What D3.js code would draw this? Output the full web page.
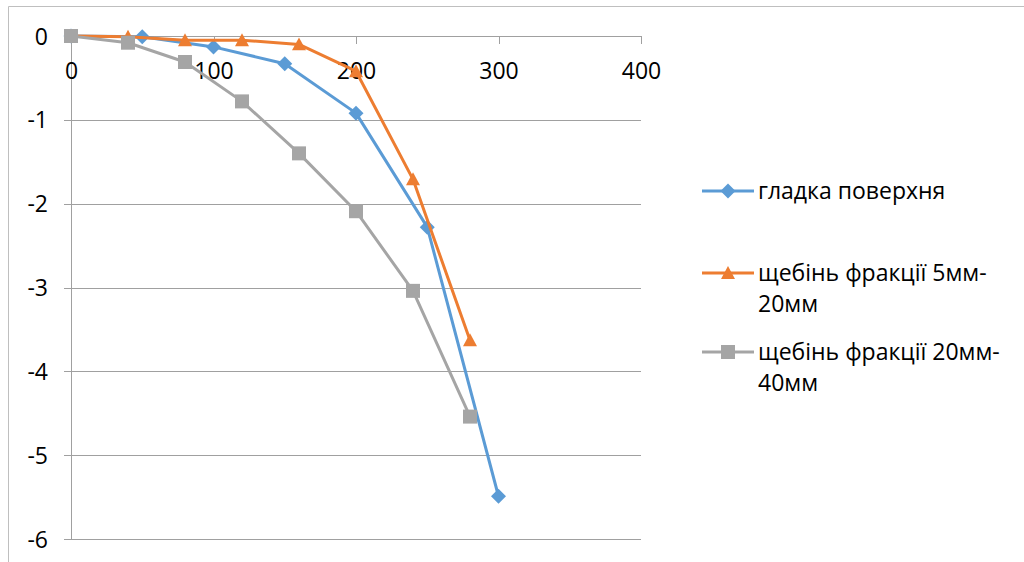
<!DOCTYPE html>
<html>
<head>
<meta charset="utf-8">
<script src="https://cdn.jsdelivr.net/npm/d3@7"></script>
<style>
  html, body { margin: 0; padding: 0; background: #fff; }
  svg { display: block; }
  text { font-family: "Open Sans", "Noto Sans", sans-serif; fill: #000; }
</style>
</head>
<body>
<svg id="chart" width="1024" height="562"></svg>
<script>
// Series names (legend)
const seriesNames = [
  "гладка поверхня",
  "щебінь фракції 5мм-20мм",
  "щебінь фракції 20мм-40мм"
];
const seriesColors = ["#5B9BD5", "#ED7D31", "#A5A5A5"];
const seriesMarkers = ["diamond", "triangle", "square"];

// Measured points: x values and y values per series
const smoothX = [0, 50, 100, 150, 200, 250, 300];
const smoothY = [0, -0.01, -0.13, -0.33, -0.92, -2.28, -5.49];

const fine5x20X = [0, 40, 80, 120, 160, 200, 240, 280];
const fine5x20Y = [0, -0.01, -0.05, -0.05, -0.10, -0.42, -1.71, -3.63];

const coarse20x40X = [0, 40, 80, 120, 160, 200, 240, 280];
const coarse20x40Y = [0, -0.08, -0.31, -0.78, -1.40, -2.09, -3.04, -4.54];

// Axis ticks
const xTicks = [0, 100, 200, 300, 400];
const yTicks = [0, -1, -2, -3, -4, -5, -6];

const series = [
  { name: seriesNames[0], color: seriesColors[0], marker: seriesMarkers[0],
    pts: smoothX.map((x, i) => [x, smoothY[i]]) },
  { name: seriesNames[1], color: seriesColors[1], marker: seriesMarkers[1],
    pts: fine5x20X.map((x, i) => [x, fine5x20Y[i]]) },
  { name: seriesNames[2], color: seriesColors[2], marker: seriesMarkers[2],
    pts: coarse20x40X.map((x, i) => [x, coarse20x40Y[i]]) }
];

const svg = d3.select("#chart");
const gridColor = "#A0A0A0";
const fontSize = "23px";

// Chart frame
svg.append("path")
  .attr("d", "M8.5,600 V6.5 H1030")
  .attr("fill", "none")
  .attr("stroke", "#BFBFBF")
  .attr("stroke-width", 1);

const x = d3.scaleLinear().domain([0, 400]).range([71, 641]);
const y = d3.scaleLinear().domain([0, -6]).range([36, 539]);

// Horizontal gridlines with left tick marks and labels
const yAxis = d3.axisLeft(y)
  .tickValues(yTicks)
  .tickSize(0)
  .tickSizeOuter(0)
  .tickFormat(d => d3.format("d")(d).replace("−", "-"));

const gy = svg.append("g")
  .attr("transform", "translate(64,0)")
  .call(yAxis);
gy.select(".domain").remove();
gy.selectAll(".tick line")
  .attr("stroke", gridColor)
  .attr("x1", 0)
  .attr("x2", 641 - 64)
  .attr("shape-rendering", "crispEdges");
gy.selectAll(".tick text")
  .attr("x", -16)
  .attr("dy", "0.35em")
  .style("font-size", fontSize)
  .attr("fill", "#000");

// Vertical axis line
svg.append("line")
  .attr("x1", x(0)).attr("x2", x(0))
  .attr("y1", y(0)).attr("y2", y(-6))
  .attr("stroke", gridColor)
  .attr("shape-rendering", "crispEdges");

// Horizontal axis at y = 0 with ticks hanging down
const xAxis = d3.axisBottom(x)
  .tickValues(xTicks)
  .tickSize(8)
  .tickSizeOuter(0)
  .tickPadding(19)
  .tickFormat(d3.format("d"));

const gx = svg.append("g")
  .attr("transform", `translate(0,${y(0)})`)
  .call(xAxis);
gx.select(".domain").attr("stroke", gridColor).attr("shape-rendering", "crispEdges");
gx.selectAll(".tick line").attr("stroke", gridColor).attr("shape-rendering", "crispEdges");
gx.selectAll(".tick text")
  .style("font-size", fontSize)
  .attr("fill", "#000");

// Marker shapes
function markerPath(kind, size) {
  const h = size / 2;
  if (kind === "diamond") return `M0,${-h}L${h},0L0,${h}L${-h},0Z`;
  if (kind === "triangle") return `M0,${-h}L${h},${h * 0.85}L${-h},${h * 0.85}Z`;
  return `M${-h},${-h}H${h}V${h}H${-h}Z`;
}

const line = d3.line().x(d => x(d[0])).y(d => y(d[1]));

const plot = svg.append("g");
series.forEach(s => {
  const g = plot.append("g");
  g.append("path")
    .datum(s.pts)
    .attr("d", line)
    .attr("fill", "none")
    .attr("stroke", s.color)
    .attr("stroke-width", 3)
    .attr("stroke-linejoin", "round");
  g.selectAll("path.m")
    .data(s.pts)
    .join("path")
    .attr("class", "m")
    .attr("transform", d => `translate(${x(d[0])},${y(d[1])})`)
    .attr("d", markerPath(s.marker, s.marker === "diamond" ? 15 : 14))
    .attr("fill", s.color);
});

// Legend
const legendRows = [
  { lines: ["гладка поверхня"], y: 191 },
  { lines: ["щебінь фракції 5мм-", "20мм"], y: 273 },
  { lines: ["щебінь фракції 20мм-", "40мм"], y: 352 }
];
const legend = svg.append("g");
series.forEach((s, i) => {
  const r = legendRows[i];
  const g = legend.append("g").attr("transform", `translate(0,${r.y})`);
  g.append("line")
    .attr("x1", 702).attr("x2", 754)
    .attr("y1", 0).attr("y2", 0)
    .attr("stroke", s.color).attr("stroke-width", 3);
  g.append("path")
    .attr("transform", "translate(728,0)")
    .attr("d", markerPath(s.marker, s.marker === "diamond" ? 15 : 14))
    .attr("fill", s.color);
  const t = g.append("text")
    .attr("x", 758)
    .attr("y", 0)
    .style("font-size", fontSize);
  r.lines.forEach((ln, k) => {
    t.append("tspan")
      .attr("x", 758)
      .attr("dy", k === 0 ? "0.35em" : "1.35em")
      .text(ln);
  });
});
</script>
</body>
</html>
